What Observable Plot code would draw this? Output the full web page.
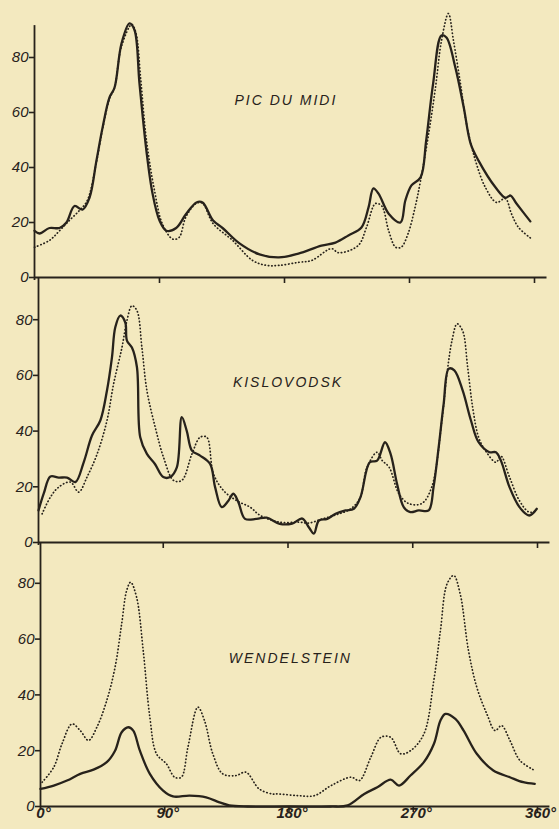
<!DOCTYPE html>
<html><head><meta charset="utf-8">
<script src="https://cdn.jsdelivr.net/npm/d3@7"></script>
<script src="https://cdn.jsdelivr.net/npm/@observablehq/plot@0.6"></script>
<style>
html,body{margin:0;padding:0;background:#f3e9bf;}
#chart{position:relative;width:559px;height:829px;background:#f3e9bf;overflow:hidden;}
#chart svg{position:absolute;left:0;top:0;}
</style></head><body><div id="chart"></div>
<script>
const xTicks = [0, 90, 180, 270, 360];
const yTicks = [0, 20, 40, 60, 80];
const stations = ["PIC DU MIDI", "KISLOVODSK", "WENDELSTEIN"];

// [degrees, value]
const picSolid = [[0,17],[3.6,16],[10.8,18],[18,18],[23,20],[28.8,26],[34.6,24.7],[39.6,29],[44.6,42.5],[49,54.5],[54,65.5],[57.6,69],[62.6,85],[68.4,92.4],[72,90],[75.6,70.5],[80.6,46],[85,30.5],[90,20.7],[95,17],[102,18],[109,23],[116.6,27.3],[121,27.3],[128.6,20.7],[135.4,18],[147.6,12.4],[162,8.4],[176,7.3],[190,8.7],[206.6,11.6],[216.7,12.7],[226,15.3],[235.4,18.2],[240.5,25.5],[244,32.4],[247.7,30.5],[255,23.2],[263.5,20],[267,28],[271.4,33.5],[278,36.4],[282,49.8],[287,70.5],[293,88],[296.6,87.3],[303,76.4],[309,62],[314,48.7],[319.7,42.5],[332,32.7],[339,29],[342.7,29.8],[347,26.9],[357,20.4]];
const picDotted = [[0,11],[10.8,13.5],[18,17],[25,20.7],[32.4,24.4],[38,28],[44.6,42],[49,54],[54,65],[57.6,69],[62.6,84],[70,92],[73,89],[76.5,72],[80.6,50],[86.4,31.6],[92,19.6],[99.4,14],[104,14.5],[109,22],[116.6,27],[121,27],[128.6,19.6],[142.6,13.5],[157,6.2],[167,4.4],[176,4.4],[190,5.5],[199.6,6.2],[213.8,10.5],[219,9],[233,11.6],[239,18.2],[245.5,26.9],[250,26],[255,17],[260,11],[264,11],[269,16],[274,25.5],[278,35.3],[283.7,52],[288.7,69],[293,86],[298,96],[301.7,86],[306.7,70.5],[311,56],[317.5,42.5],[324.7,32.7],[332.6,27.3],[339,28.7],[343.4,23.2],[348.5,18.2],[358,14]];

const kisSolid = [[0,11.5],[3.8,17.6],[8.6,23.7],[14.6,23.3],[20.6,23.3],[26.6,21.7],[32.6,28.8],[38.6,38.4],[44.6,43.8],[49.4,54.6],[53,66.5],[55.4,77.3],[59,81.5],[62.6,79],[63.8,72.5],[67.4,70],[71,63],[73.4,37.8],[78.2,31.8],[84,28.2],[90,23.5],[95,23.5],[99.8,27],[103.4,45],[107,40],[110.7,33],[116.6,31.2],[123.8,28.2],[127.4,19.9],[132.2,12.7],[137,15],[140.6,17.5],[144.2,14.5],[149,8.5],[157.4,8.5],[164.6,8.9],[174,6.7],[183,6.8],[190.3,8.6],[195,5.5],[198.7,3.2],[202.3,7.9],[208.3,8.5],[214.3,10.3],[221.5,11.5],[227.5,12.1],[232.3,16.3],[239,28.8],[244.3,29.4],[250,36],[254,31.8],[258.7,21],[263.5,12.7],[268.3,10.9],[274.3,11.5],[281.5,11.5],[285,19.9],[288.7,34.2],[292.3,49.8],[296,62.4],[300,61.8],[306,54.6],[312,43.8],[317.5,36],[325.4,32.4],[330,32.4],[333.6,29.4],[339.8,19.9],[347,12.7],[354,9.7],[359.5,12.1]];
const kisDotted = [[2.6,10.3],[8.6,16.3],[14.6,19.9],[23,21.7],[29,18.1],[35,23.5],[42.3,31.8],[49.4,43.8],[54.2,57],[60.2,70],[63.8,79.7],[67.4,85],[71,83.3],[74.6,70],[78.2,54.6],[84.2,41.4],[90.2,30.6],[97.4,22.3],[103.4,22.3],[110.7,31.8],[116.6,37.8],[121.4,37.8],[126.2,24.7],[133.4,18.7],[143,15],[152.6,12.7],[160,9.7],[174,7.3],[188,7.3],[195,7],[205,8.5],[215,10],[225,12],[232,16],[237,27],[244.3,32.4],[248,29.4],[253,27],[260,17.5],[267,14],[276.5,14],[283.7,19.9],[291,43.8],[294.7,60.6],[298.3,72.5],[302,78.5],[306,76],[309.6,63],[313.2,48.6],[317.5,37.8],[322.4,33],[330,28.8],[333.6,31],[339.8,23.5],[347,15],[354,10.9],[359.5,11.5]];

const wenSolid = [[0,6.3],[9.6,7.5],[19.2,9.3],[28.8,11.7],[38.4,13.2],[48,15.9],[54,20],[58.8,26.6],[63.6,28.4],[67.2,27.2],[72,20],[79.2,11.7],[88.8,5.7],[96,3.6],[108,3.9],[120,3.3],[129.6,1.5],[136.8,0.4],[150,0],[180,0],[210,0],[222.5,0.4],[234.5,4.5],[244,6.9],[253.7,9.6],[259.7,7.5],[268,11.1],[277.7,15.9],[285,22.5],[289.7,30.8],[293.3,33.2],[300.5,31.4],[306.5,27.2],[316,18.9],[328,12.9],[340,10.5],[349.7,8.7],[358,8.1]];
const wenDotted = [[1.2,8.7],[9.6,14.1],[15.6,22.5],[22.8,29.6],[28.8,27.2],[34.8,23.7],[40.8,28.4],[48,38],[54,49.9],[58.8,65.5],[62.4,77.4],[65.3,80.4],[69.6,75],[74.4,55.9],[79.2,32],[84,18.9],[91.2,15.3],[97.2,10.5],[102,10.5],[106.8,21.3],[114,35.6],[118.8,30.8],[124.8,18.9],[132,11.7],[141.6,11.1],[148.8,12.3],[158.4,6.3],[168,4.5],[172,4.5],[186.5,3.9],[198.5,3.9],[210.5,7.5],[225,10.5],[231,9.3],[239.3,17.7],[246.6,24.8],[253.7,24.8],[260.9,18.9],[268,20],[277.7,26],[284.9,45.2],[289.7,63.1],[294.5,79.8],[299.3,82.8],[304,76.2],[310,55.9],[316,42.8],[323.3,33.2],[329.3,27.2],[334,29],[340,23.7],[347.3,16.5],[358,12.9]];

const ink = "#27221b";
const font = "'Liberation Sans', Arial, sans-serif";

function panel(cfg) {
  const {solid, dotted, name, xr, base, k, top, last, lx, ly} = cfg;
  const rows = a => a.map(([d, v]) => ({d, v}));
  const marks = [
    Plot.ruleY([0], {x1: 0, x2: 369, stroke: ink, strokeWidth: 1.8}),
    Plot.ruleX([0], {y1: -3 / k, y2: top, stroke: ink, strokeWidth: 1.8}),
    Plot.ruleX(xTicks.slice(1), {y1: 0, y2: -6 / k, stroke: ink, strokeWidth: 1.6}),
    Plot.axisY({ticks: yTicks, tickSize: 5, tickPadding: 1, fontSize: 15, fontStyle: "italic", strokeWidth: 1.6}),
    Plot.line(rows(dotted), {x: "d", y: "v", curve: "catmull-rom", stroke: ink, strokeWidth: 1.7, strokeLinecap: "round", strokeDasharray: "0.4,3"}),
    Plot.line(rows(solid), {x: "d", y: "v", curve: "catmull-rom", stroke: ink, strokeWidth: 2.3}),
    Plot.text([{name, lx, ly}], {x: "lx", y: "ly", text: "name", fontSize: 14, fontStyle: "italic", fontWeight: 500, fill: ink})
  ];
  if (last) {
    marks.push(Plot.axisX({ticks: xTicks, tickSize: 0, tickPadding: 1, dx: 3, tickFormat: d => d + "°", fontSize: 15, fontWeight: "bold", fontStyle: "italic"}));
  }
  const svg = Plot.plot({
    width: 559, height: 829,
    marginLeft: xr[0], marginRight: 559 - xr[1],
    marginTop: base - 100 * k, marginBottom: 829 - base,
    x: {domain: [0, 360], axis: last ? undefined : null},
    y: {domain: [0, 100]},
    style: {background: "transparent", color: ink, fontFamily: font, overflow: "visible"},
    marks
  });
  d3.select(svg).selectAll("g[aria-label='text'] text").attr("letter-spacing", "2px");
  return svg;
}

const chart = document.getElementById("chart");
chart.append(panel({solid: picSolid, dotted: picDotted, name: stations[0], xr: [34, 534], base: 277, k: 2.75, top: 91.6, last: false, lx: 181, ly: 64.5}));
chart.append(panel({solid: kisSolid, dotted: kisDotted, name: stations[1], xr: [38, 537], base: 542, k: 2.785, top: 95.1, last: false, lx: 180, ly: 57.4}));
chart.append(panel({solid: wenSolid, dotted: wenDotted, name: stations[2], xr: [40, 537], base: 806, k: 2.79, top: 94.6, last: true, lx: 181, ly: 53}));
</script></body></html>
